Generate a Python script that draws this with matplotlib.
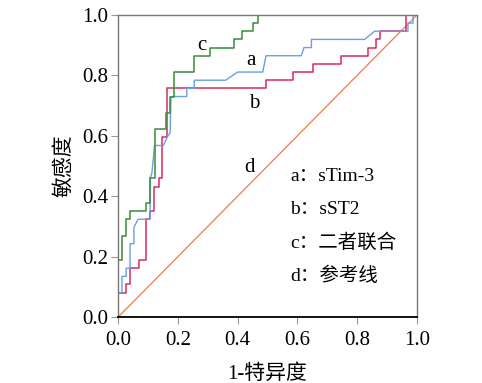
import matplotlib
matplotlib.use("Agg")
import matplotlib.pyplot as plt

plt.rcParams['font.family'] = ['Liberation Serif', 'Noto Sans CJK SC']

# a: sTim-3 (vertices, some sloped segments from ties)
a_fpr = [0.0, 0.0, 0.013, 0.013, 0.027, 0.027, 0.040, 0.040, 0.053, 0.053, 0.067, 0.107,
         0.107, 0.113, 0.122, 0.152, 0.165, 0.174, 0.177, 0.230, 0.230, 0.255, 0.255,
         0.360, 0.400, 0.484, 0.495, 0.613, 0.622, 0.647, 0.647, 0.825, 0.858, 0.970,
         0.970, 0.987, 0.987, 1.0]
a_tpr = [0.0, 0.081, 0.081, 0.135, 0.135, 0.162, 0.162, 0.243, 0.243, 0.297, 0.324, 0.324,
         0.459, 0.476, 0.568, 0.568, 0.597, 0.610, 0.730, 0.730, 0.757, 0.757, 0.784,
         0.784, 0.811, 0.811, 0.865, 0.865, 0.892, 0.892, 0.919, 0.919, 0.946, 0.946,
         0.973, 0.973, 1.0, 1.0]

# b: sST2 (step positions, value after the step)
b_fpr = [0.0, 0.0, 0.028, 0.041, 0.069, 0.095, 0.108, 0.120, 0.136, 0.148, 0.162,
         0.494, 0.585, 0.652, 0.747, 0.836, 0.864, 0.877, 0.962, 1.0]
b_tpr = [0.0, 0.081, 0.108, 0.162, 0.189, 0.324, 0.351, 0.432, 0.459, 0.595, 0.757,
         0.784, 0.811, 0.838, 0.865, 0.892, 0.919, 0.946, 1.0, 1.0]

# c: combined
c_fpr = [0.0, 0.0, 0.013, 0.027, 0.040, 0.093, 0.107, 0.122, 0.160, 0.173, 0.187,
         0.253, 0.307, 0.387, 0.413, 0.453, 0.467, 1.0]
c_tpr = [0.0, 0.189, 0.270, 0.324, 0.351, 0.378, 0.459, 0.622, 0.676, 0.730, 0.811,
         0.865, 0.892, 0.919, 0.946, 0.973, 1.0, 1.0]

legend_lines = ["a：sTim-3", "b：sST2", "c：二者联合", "d：参考线"]
ticks = [0.0, 0.2, 0.4, 0.6, 0.8, 1.0]
tick_labels = ["0.0", "0.2", "0.4", "0.6", "0.8", "1.0"]

fig = plt.figure(figsize=(4.82, 3.83), dpi=100)
ax = fig.add_axes([0.245, 0.172, 0.62, 0.789])

ax.plot([0, 1], [0, 1], color="#f07a4a", lw=0.9)
ax.plot(b_fpr, b_tpr, drawstyle="steps-post", color="#d42c5c", lw=1.1)
ax.plot(a_fpr, a_tpr, color="#6a9ee6", lw=1.0)
ax.plot(c_fpr, c_tpr, drawstyle="steps-post", color="#3a8a3a", lw=1.1)

ax.set_xlim(0, 1)
ax.set_ylim(0, 1)
ax.set_xticks(ticks, tick_labels)
ax.set_yticks(ticks, tick_labels)
ax.tick_params(direction="out", length=5, width=0.8, color="#999999",
               labelsize=15, pad=2)
ax.tick_params(axis="x", pad=5)
for s in ("left", "top", "right"):
    ax.spines[s].set_color("#777777")
    ax.spines[s].set_linewidth(1.0)
ax.spines["bottom"].set_color("black")
ax.spines["bottom"].set_linewidth(1.3)

ax.set_xlabel("1-特异度", fontsize=15, labelpad=10)
ax.set_ylabel("敏感度", fontsize=15, labelpad=6)

ax.text(0.28, 0.90, "c", fontsize=15, ha="center", va="center")
ax.text(0.445, 0.848, "a", fontsize=15, ha="center", va="center")
ax.text(0.456, 0.708, "b", fontsize=15, ha="center", va="center")
ax.text(0.44, 0.494, "d", fontsize=15, ha="center", va="center")

for i, s in enumerate(legend_lines):
    ax.text(0.577, 0.465 - i * 0.109, s, fontsize=14, ha="left", va="center")

fig.savefig("out.png", dpi=100)
